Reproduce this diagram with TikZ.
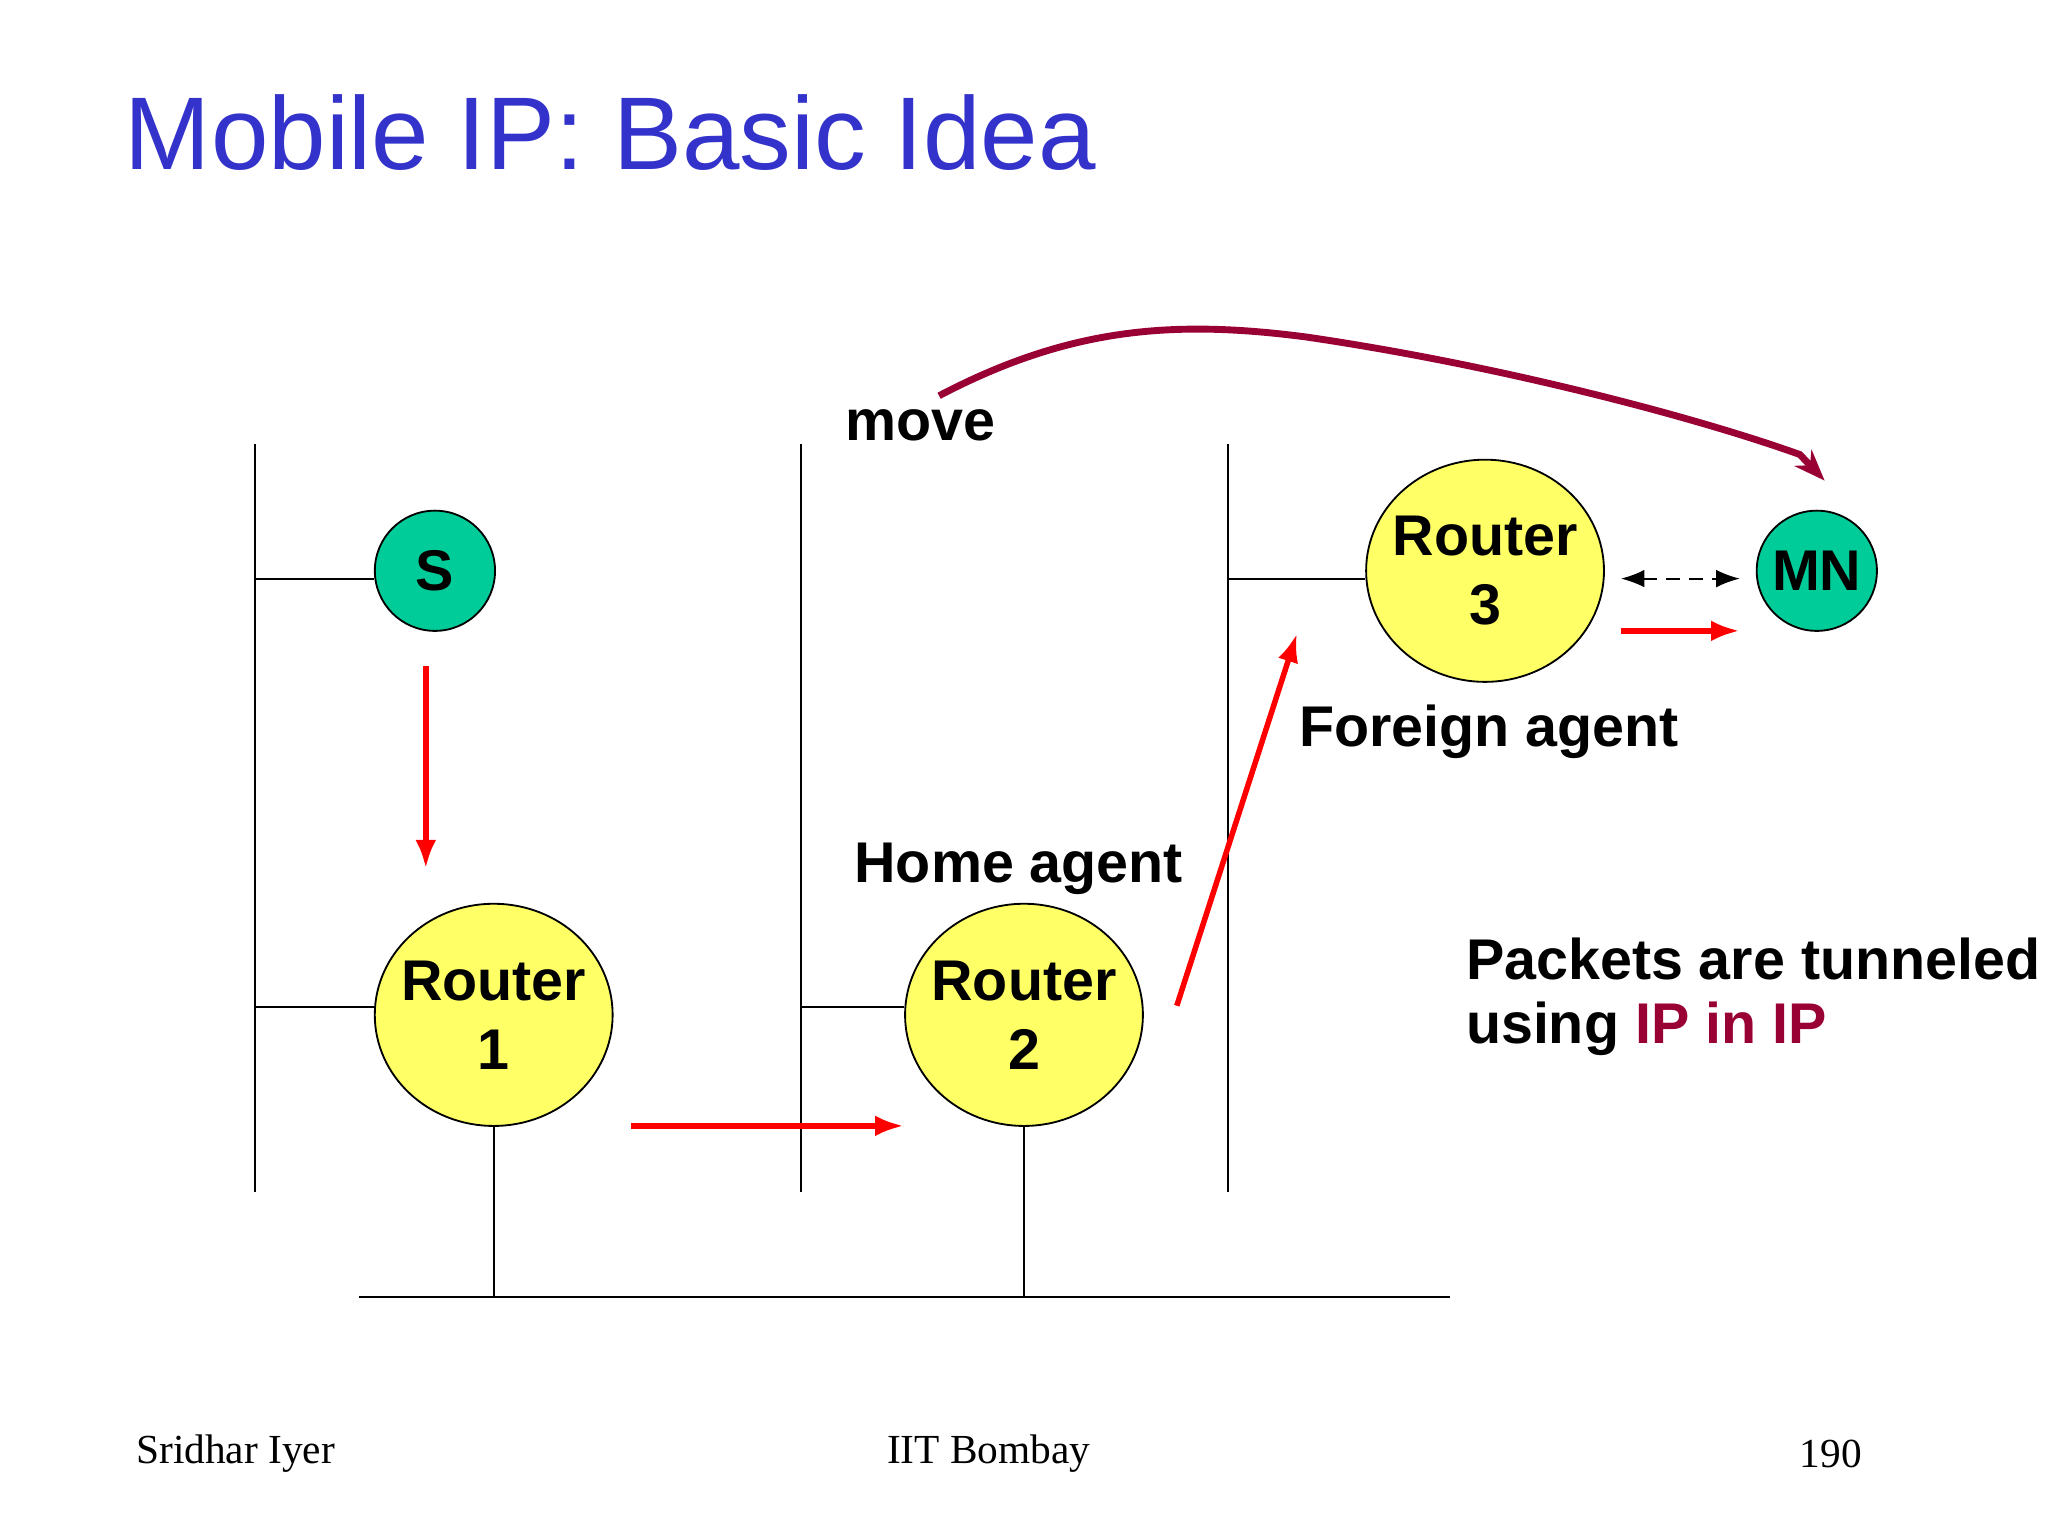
\documentclass[tikz,border=0pt]{standalone}
\usepackage{fontspec}
\setmainfont{Liberation Sans}
\newfontfamily\footfont{Liberation Serif}
\usetikzlibrary{shapes.geometric,arrows.meta}
\definecolor{titleblue}{RGB}{51,51,204}
\definecolor{mnteal}{RGB}{0,204,153}
\definecolor{routeryellow}{RGB}{255,255,102}
\definecolor{movered}{RGB}{153,0,51}
\tikzset{
    host/.style={circle, draw, fill=mnteal, minimum size=0.92cm, inner sep=0pt, font=\bfseries\fontsize{12.5}{12.5}\selectfont},
    router/.style={ellipse, draw, fill=routeryellow, minimum width=1.82cm, minimum height=1.7cm, inner xsep=-6pt, inner ysep=-4pt, align=center, font=\bfseries\fontsize{12.5}{15}\selectfont},
    label/.style={font=\bfseries\fontsize{12.5}{14}\selectfont},
    flow/.style={red, line width=1.2pt, -{Latex[length=2.2mm,width=1.6mm]}},
    foot/.style={font=\footfont\fontsize{9}{9}\selectfont}
}
\begin{document}
\begin{tikzpicture}[x=0.01cm, y=-0.01cm]
    \useasboundingbox (0,0) rectangle (1568,1176);
    \node[anchor=base west, text=titleblue, font=\fontsize{22.5}{22.5}\selectfont, inner sep=0pt] (title) at (95,130) {Mobile IP: Basic Idea};

    % network segments
    \draw (195,340) coordinate(l1t) -- (195,913) coordinate(l1b);
    \draw (613,340) coordinate(l2t) -- (613,913) coordinate(l2b);
    \draw (940,340) coordinate(l3t) -- (940,913) coordinate(l3b);
    \draw (275,993) coordinate(bl) -- (1110,993) coordinate(br);

    \node[host] (s) at (333,437) {S};
    \node[router] (r1) at (378,777) {Router\\1};
    \node[router] (r2) at (784,777) {Router\\2};
    \node[router] (r3) at (1137,437) {Router\\3};
    \node[host] (mn) at (1391,437) {MN};

    \draw (195,443) coordinate(s1) -- (s.west |- s1);
    \draw (195,771) coordinate(r1a) -- (r1.west |- r1a);
    \draw (613,771) coordinate(r2a) -- (r2.west |- r2a);
    \draw (940,443) coordinate(r3a) -- (r3.west |- r3a);
    \draw (r1.south) -- (r1.south |- bl);
    \draw (r2.south) -- (r2.south |- bl);

    % packet path
    \draw[flow] (326,510) coordinate(p1) -- (326,665) coordinate(p2);
    \draw[flow] (483,862) coordinate(p3) -- (692,862) coordinate(p4);
    \draw[flow] (901,770) coordinate(p5) -- (993,485) coordinate(p6);
    \draw[flow] (1241,483) coordinate(p7) -- (1332,483) coordinate(p8);
    \draw[densely dashed, {Latex[length=1.8mm]}-{Latex[length=1.8mm]}] (1241,443) coordinate(d1) -- (1332,443) coordinate(d2);

    % move
    \draw[movered, line width=1.5pt, -{Stealth[length=2.4mm]}] (719,303) coordinate(m1)
    .. controls (820,250) and (900,245) .. (1000,258)
    .. controls (1150,280) and (1300,320) .. (1378,348)
    -- (1397,368) coordinate(m2);

    \node[label] (move) at (705,326) {move};
    \node[label] (fa) at (1140,560) {Foreign agent};
    \node[label] (ha) at (780,665) {Home agent};
    \node[label, anchor=west, align=left] (tun) at (1110,763) {Packets are tunneled\\using \textcolor{movered}{IP in IP}};

    \node[foot, anchor=west] (author) at (92,1113) {Sridhar Iyer};
    \node[foot] (inst) at (757,1113) {IIT Bombay};
    \node[foot, anchor=east] (page) at (1438,1113) {190};
\end{tikzpicture}
\end{document}
